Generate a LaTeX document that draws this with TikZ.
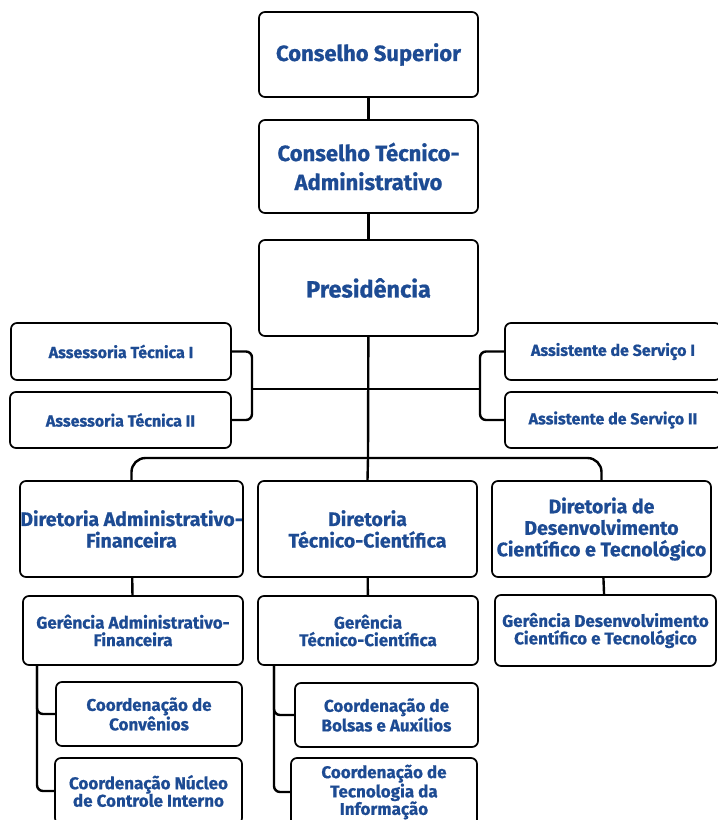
\documentclass[tikz,border=0pt]{standalone}
\usepackage{fontspec}
\setmainfont{Fira Sans}[BoldFeatures={FakeBold=0.8}]
\definecolor{orgblue}{HTML}{1D4B93}

\begin{document}
\begin{tikzpicture}[x=1pt, y=-1pt,
      every node/.style = {shape=rectangle, rounded corners=6pt,
        draw, line width=1.7pt, align=center, inner sep=0pt,
        text=orgblue, font=\bfseries},
      big/.style = {font=\bfseries\fontsize{22}{29}\selectfont},
      dir/.style = {font=\bfseries\fontsize{19.5}{21.5}\selectfont},
      ger/.style = {font=\bfseries\fontsize{17}{17.5}\selectfont},
      small/.style = {font=\bfseries\fontsize{16}{18}\selectfont},
      link/.style = {line width=2.4pt, rounded corners=6pt}]
  \useasboundingbox (0,0) rectangle (718,820);
  % top
  \node[big, minimum width=219pt, minimum height=85pt] (cons) at (368.5,54.5) {Conselho Superior};
  \node[big, minimum width=219pt, minimum height=93pt] (ctec) at (368.5,166.5) {Conselho Técnico-\\Administrativo};
  \node[big, minimum width=219pt, minimum height=96pt, font=\bfseries\fontsize{23.5}{28}\selectfont] (pres) at (368.5,288) {Presidência};
  % side boxes
  \node[small, minimum width=220pt, minimum height=57pt] (ass1) at (121,351.5) {Assessoria Técnica I};
  \node[small, minimum width=221pt, minimum height=56pt] (ass2) at (120.5,420) {Assessoria Técnica II};
  \node[small, minimum width=216pt, minimum height=57pt] (asv1) at (613,351.5) {Assistente de Serviço I};
  \node[small, minimum width=216pt, minimum height=56pt] (asv2) at (613,420) {Assistente de Serviço II};
  % diretorias
  \node[dir, minimum width=223pt, minimum height=96pt] (dadm) at (131.5,529) {Diretoria Administrativo-\\Financeira};
  \node[dir, minimum width=219pt, minimum height=96pt] (dtec) at (367.5,529) {Diretoria\\Técnico-Científica};
  \node[dir, minimum width=219pt, minimum height=96pt] (ddes) at (601.5,529) {Diretoria de\\Desenvolvimento\\Científico e Tecnológico};
  % gerencias
  \node[ger, minimum width=220pt, minimum height=69pt] (gadm) at (133,630.5) {Gerência Administrativo-\\Financeira};
  \node[ger, minimum width=220pt, minimum height=69pt] (gtec) at (368,630.5) {Gerência\\Técnico-Científica};
  \node[ger, minimum width=221pt, minimum height=71pt] (gdes) at (605.5,630.5) {Gerência Desenvolvimento\\Científico e Tecnológico};
  % coordenacoes
  \node[ger, minimum width=186pt, minimum height=64pt] (cconv) at (149,714) {Coordenação de\\Convênios};
  \node[ger, minimum width=187pt, minimum height=66pt] (cnuc) at (148.5,791) {Coordenação Núcleo\\de Controle Interno};
  \node[ger, minimum width=183pt, minimum height=64pt] (cbol) at (386.5,715) {Coordenação de\\Bolsas e Auxílios};
  \node[ger, minimum width=186pt, minimum height=68pt] (cti) at (384,792) {Coordenação de\\Tecnologia da\\Informação};

  \coordinate (bar) at (368,458);
  \coordinate (lk) at (252,389);
  \coordinate (rk) at (480,389);
  \coordinate (ga) at (37,665);
  \coordinate (gt) at (274,665);

  \draw[link] (cons) -- (ctec);
  \draw[link] (ctec) -- (pres);
  \draw[link, rounded corners=0pt] (pres) -- (bar);
  \draw[link] (ass1.east) -| (lk) |- (ass2.east);
  \draw[link] (asv1.west) -| (rk) |- (asv2.west);
  \draw[link, rounded corners=0pt] (lk) -- (rk);
  \draw[link, rounded corners=14pt] (dadm.north) |- (bar) -| (ddes.north);
  \draw[link] (bar) -- (dtec.north);
  \draw[link] (dadm) -- (gadm);
  \draw[link] (dtec) -- (gtec);
  \draw[link] (ddes) -- (gdes);
  \draw[link] (ga) |- (cnuc.west);
  \draw[link] (ga) |- (cconv.west);
  \draw[link] (gt) |- (cti.west);
  \draw[link] (gt) |- (cbol.west);
\end{tikzpicture}
\end{document}
